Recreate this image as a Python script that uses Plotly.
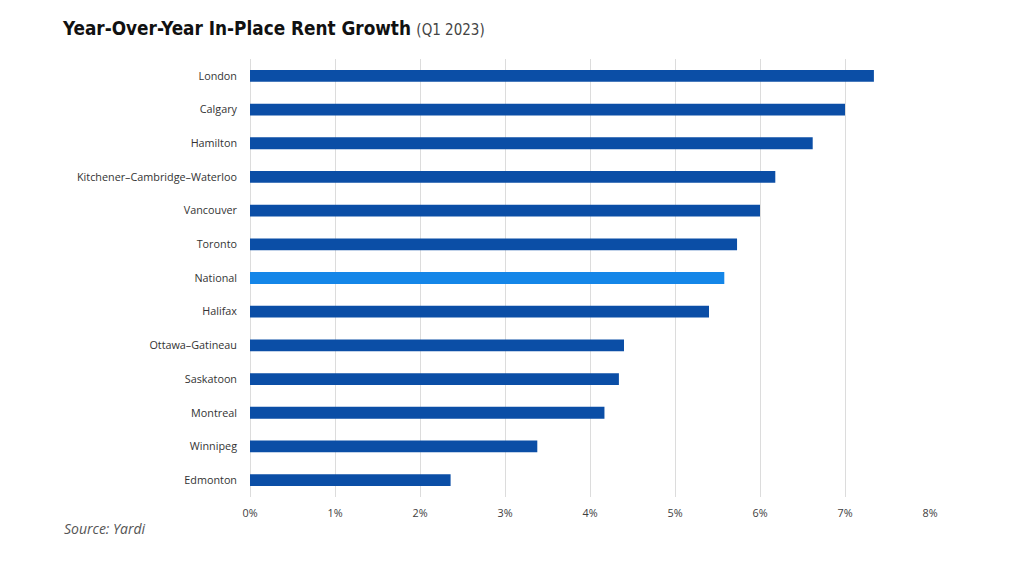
import plotly.graph_objects as go

cities = ["London", "Calgary", "Hamilton", "Kitchener–Cambridge–Waterloo", "Vancouver",
          "Toronto", "National", "Halifax", "Ottawa–Gatineau", "Saskatoon", "Montreal",
          "Winnipeg", "Edmonton"]
growth = [7.34, 7.00, 6.62, 6.18, 6.00, 5.73, 5.58, 5.40, 4.40, 4.34, 4.17, 3.38, 2.36]
tick_vals = [0, 1, 2, 3, 4, 5, 6, 7, 8]
tick_text = ["0%", "1%", "2%", "3%", "4%", "5%", "6%", "7%", "8%"]

DARK = "#0B4EA6"
LIGHT = "#1486E8"
colors = [LIGHT if c == "National" else DARK for c in cities]

# page body has an 8px offset; compensate
L, T = 242, 51
PW, PH = 680, 438
W, H = 1008, 572

fig = go.Figure(go.Bar(
    x=growth, y=cities, orientation="h",
    marker=dict(color=colors, line=dict(width=0)),
    width=0.35,
    hoverinfo="x+y",
))

fig.update_layout(
    width=W, height=H,
    margin=dict(l=L, r=W - L - PW, t=T, b=H - T - PH),
    paper_bgcolor="white", plot_bgcolor="white",
    showlegend=False,
    font=dict(family="Open Sans, Liberation Sans, sans-serif", size=10.8, color="#333333"),
    xaxis=dict(range=[0, 8], tickvals=tick_vals, ticktext=tick_text,
               showgrid=True, gridcolor="#DCDCDC", gridwidth=1,
               zeroline=True, zerolinecolor="#DCDCDC", zerolinewidth=1,
               ticks="", ticklabelstandoff=8, fixedrange=True,
               tickfont=dict(size=10.8, color="#404040")),
    yaxis=dict(categoryorder="array", categoryarray=cities[::-1],
               range=[-0.5, len(cities) - 0.5],
               showgrid=False, zeroline=False, ticks="", ticklabelstandoff=12,
               tickfont=dict(size=10.8, color="#333333")),
    annotations=[
        dict(text="<b>Year-Over-Year In-Place Rent Growth</b> <span style='font-size:15px;color:#444444'>(Q1 2023)</span>",
             xref="paper", yref="paper", x=-(L - 52) / PW, y=1 + (T - 20) / PH,
             xanchor="left", yanchor="middle", showarrow=False,
             font=dict(family="DejaVu Sans Condensed, Liberation Sans Narrow, sans-serif",
                       size=18.8, color="#111111")),
        dict(text="<i>Source: Yardi</i>", xref="paper", yref="paper",
             x=-(L - 54) / PW, y=-(520 - (T + PH)) / PH,
             xanchor="left", yanchor="middle", showarrow=False,
             font=dict(family="Open Sans, Liberation Sans, sans-serif", size=14, color="#555555")),
    ],
)

fig.write_html("out.html")
